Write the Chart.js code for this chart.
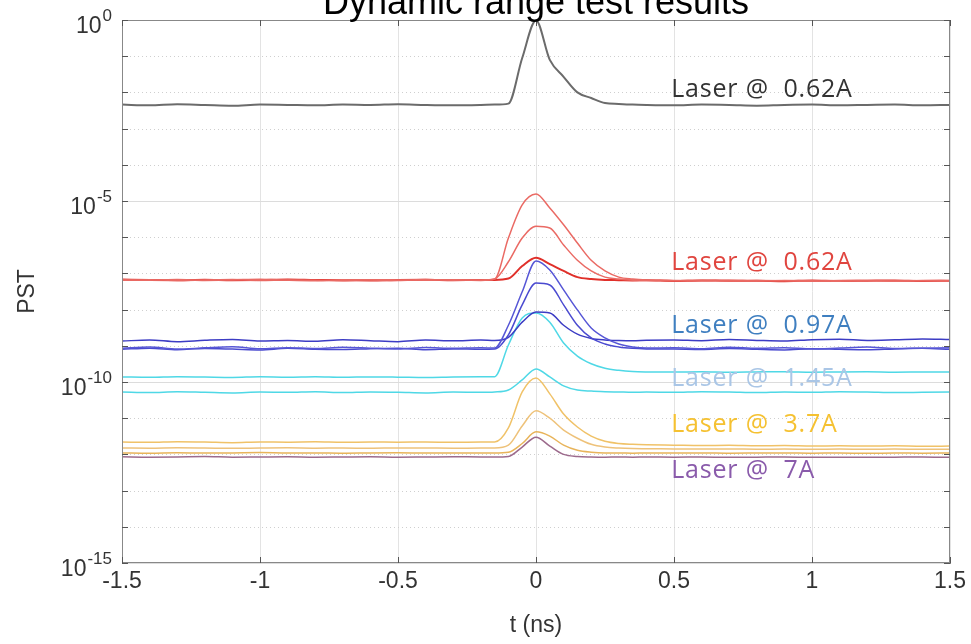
<!DOCTYPE html>
<html>
<head>
<meta charset="utf-8">
<script src="https://cdn.jsdelivr.net/npm/chart.js@4.4.1/dist/chart.umd.min.js"></script>
<style>
  html, body { margin: 0; padding: 0; background: #fff; }
  canvas { display: block; }
</style>
</head>
<body>
<canvas id="myChart" width="971" height="644"></canvas>
<script>
// time axis (ns), shared by every trace
const T = [-1.5, -1.4, -1.3, -1.2, -1.1, -1.0, -0.9, -0.8, -0.7, -0.6, -0.5, -0.4, -0.3, -0.2,
  -0.15, -0.1, -0.05, 0, 0.05, 0.1, 0.15, 0.2, 0.25, 0.3, 0.35, 0.4,
  0.5, 0.6, 0.7, 0.8, 0.9, 1.0, 1.1, 1.2, 1.3, 1.4, 1.5];

// PST traces
const black1 = [4.6e-3, 4.4e-3, 4.7e-3, 4.5e-3, 4.3e-3, 4.6e-3, 4.5e-3, 4.4e-3, 4.6e-3, 4.5e-3, 4.7e-3, 4.5e-3, 4.4e-3, 4.5e-3,
  4.6e-3, 4.9e-3, 8.9e-2, 0.97, 7.9e-2, 2.7e-2, 1.0e-2, 7.0e-3, 5.1e-3, 4.8e-3, 4.6e-3, 4.5e-3,
  4.4e-3, 4.6e-3, 4.5e-3, 4.3e-3, 4.5e-3, 4.6e-3, 4.4e-3, 4.5e-3, 4.6e-3, 4.4e-3, 4.5e-3];

const red1 = [6.7e-8, 6.5e-8, 6.8e-8, 6.4e-8, 6.6e-8, 6.9e-8, 6.5e-8, 6.3e-8, 6.7e-8, 6.6e-8, 6.4e-8, 6.8e-8, 6.5e-8, 6.6e-8,
  7.0e-8, 9.5e-7, 7.8e-6, 1.56e-5, 6.4e-6, 2.2e-6, 6.9e-7, 2.3e-7, 1.17e-7, 7.9e-8, 7.0e-8, 6.6e-8,
  6.4e-8, 6.3e-8, 6.5e-8, 6.2e-8, 6.4e-8, 6.3e-8, 6.1e-8, 6.4e-8, 6.2e-8, 6.3e-8, 6.2e-8];
const red2 = [6.5e-8, 6.7e-8, 6.4e-8, 6.6e-8, 6.8e-8, 6.4e-8, 6.6e-8, 6.5e-8, 6.3e-8, 6.7e-8, 6.6e-8, 6.5e-8, 6.7e-8, 6.4e-8,
  7.0e-8, 2.1e-7, 9.5e-7, 2.0e-6, 1.8e-6, 6.1e-7, 2.3e-7, 1.17e-7, 7.9e-8, 7.0e-8, 6.5e-8, 6.4e-8,
  6.3e-8, 6.5e-8, 6.2e-8, 6.4e-8, 6.3e-8, 6.1e-8, 6.4e-8, 6.3e-8, 6.2e-8, 6.4e-8, 6.3e-8];
const red3 = [6.8e-8, 6.6e-8, 6.5e-8, 6.7e-8, 6.5e-8, 6.6e-8, 6.8e-8, 6.6e-8, 6.5e-8, 6.4e-8, 6.6e-8, 6.7e-8, 6.5e-8, 6.6e-8,
  6.6e-8, 7.2e-8, 1.6e-7, 2.7e-7, 1.8e-7, 1.17e-7, 7.9e-8, 7.0e-8, 6.6e-8, 6.5e-8, 6.4e-8, 6.5e-8,
  6.2e-8, 6.4e-8, 6.3e-8, 6.3e-8, 6.1e-8, 6.4e-8, 6.2e-8, 6.3e-8, 6.4e-8, 6.2e-8, 6.3e-8];

const blue1 = [8.5e-10, 9.2e-10, 8.1e-10, 8.8e-10, 9.4e-10, 8.3e-10, 8.9e-10, 8.4e-10, 9.1e-10, 8.6e-10, 8.2e-10, 9.0e-10, 8.5e-10, 8.8e-10,
  8.7e-10, 3.7e-9, 3.1e-8, 2.2e-7, 1.24e-7, 3.5e-8, 9.8e-9, 3.1e-9, 1.65e-9, 1.12e-9, 9.3e-10, 8.7e-10,
  8.8e-10, 8.3e-10, 9.1e-10, 8.5e-10, 8.9e-10, 8.2e-10, 8.7e-10, 9.2e-10, 8.4e-10, 8.6e-10, 8.8e-10];
const blue2 = [8.0e-10, 8.6e-10, 7.8e-10, 8.4e-10, 8.1e-10, 7.7e-10, 8.5e-10, 8.0e-10, 7.9e-10, 8.3e-10, 8.6e-10, 7.8e-10, 8.2e-10, 8.0e-10,
  8.1e-10, 2.0e-9, 1.35e-8, 5.4e-8, 4.8e-8, 1.35e-8, 3.7e-9, 1.65e-9, 1.12e-9, 9.3e-10, 8.5e-10, 8.2e-10,
  8.1e-10, 7.9e-10, 8.4e-10, 8.0e-10, 7.7e-10, 8.3e-10, 8.0e-10, 7.8e-10, 8.2e-10, 8.5e-10, 8.0e-10];
const blue3 = [1.35e-9, 1.45e-9, 1.3e-9, 1.42e-9, 1.5e-9, 1.36e-9, 1.4e-9, 1.33e-9, 1.47e-9, 1.38e-9, 1.3e-9, 1.44e-9, 1.37e-9, 1.45e-9,
  1.4e-9, 1.7e-9, 4.5e-9, 8.6e-9, 8.1e-9, 3.7e-9, 2.1e-9, 1.6e-9, 1.45e-9, 1.4e-9, 1.38e-9, 1.42e-9,
  1.45e-9, 1.38e-9, 1.5e-9, 1.41e-9, 1.35e-9, 1.48e-9, 1.52e-9, 1.4e-9, 1.46e-9, 1.55e-9, 1.5e-9];

const cyan1 = [1.38e-10, 1.35e-10, 1.4e-10, 1.37e-10, 1.34e-10, 1.39e-10, 1.36e-10, 1.4e-10, 1.35e-10, 1.38e-10, 1.36e-10, 1.33e-10, 1.37e-10, 1.39e-10,
  1.4e-10, 1.05e-9, 5.9e-9, 8.1e-9, 4.5e-9, 1.2e-9, 5.2e-10, 3.2e-10, 2.4e-10, 2.1e-10, 1.95e-10, 1.9e-10,
  1.88e-10, 1.92e-10, 1.86e-10, 1.9e-10, 1.93e-10, 1.87e-10, 1.9e-10, 1.91e-10, 1.86e-10, 1.89e-10, 1.9e-10];
const cyan2 = [5.3e-11, 5.1e-11, 5.4e-11, 5.2e-11, 5.0e-11, 5.3e-11, 5.2e-11, 5.4e-11, 5.1e-11, 5.3e-11, 5.2e-11, 5.0e-11, 5.3e-11, 5.2e-11,
  5.3e-11, 6.0e-11, 1.14e-10, 2.3e-10, 1.38e-10, 7.8e-11, 6.0e-11, 5.6e-11, 5.4e-11, 5.3e-11, 5.2e-11, 5.3e-11,
  5.2e-11, 5.4e-11, 5.3e-11, 5.1e-11, 5.3e-11, 5.2e-11, 5.4e-11, 5.3e-11, 5.1e-11, 5.2e-11, 5.3e-11];

const yellow1 = [2.2e-12, 2.15e-12, 2.25e-12, 2.2e-12, 2.1e-12, 2.2e-12, 2.18e-12, 2.22e-12, 2.15e-12, 2.2e-12, 2.17e-12, 2.2e-12, 2.15e-12, 2.2e-12,
  2.2e-12, 5.4e-12, 5.3e-11, 1.29e-10, 4.7e-11, 1.3e-11, 5.7e-12, 3.2e-12, 2.3e-12, 2.0e-12, 1.9e-12, 1.85e-12,
  1.8e-12, 1.75e-12, 1.78e-12, 1.72e-12, 1.75e-12, 1.7e-12, 1.73e-12, 1.7e-12, 1.72e-12, 1.68e-12, 1.7e-12];
const yellow2 = [1.5e-12, 1.48e-12, 1.52e-12, 1.5e-12, 1.47e-12, 1.5e-12, 1.52e-12, 1.49e-12, 1.5e-12, 1.48e-12, 1.51e-12, 1.5e-12, 1.48e-12, 1.5e-12,
  1.5e-12, 1.8e-12, 6.1e-12, 1.6e-11, 1.0e-11, 4.7e-12, 2.8e-12, 1.9e-12, 1.6e-12, 1.5e-12, 1.45e-12, 1.43e-12,
  1.42e-12, 1.4e-12, 1.41e-12, 1.39e-12, 1.4e-12, 1.38e-12, 1.4e-12, 1.39e-12, 1.4e-12, 1.38e-12, 1.39e-12];
const yellow3 = [1.1e-12, 1.08e-12, 1.11e-12, 1.09e-12, 1.1e-12, 1.12e-12, 1.09e-12, 1.1e-12, 1.08e-12, 1.1e-12, 1.11e-12, 1.09e-12, 1.1e-12, 1.1e-12,
  1.1e-12, 1.15e-12, 2.0e-12, 4.2e-12, 3.2e-12, 1.8e-12, 1.3e-12, 1.15e-12, 1.1e-12, 1.1e-12, 1.08e-12, 1.1e-12,
  1.09e-12, 1.1e-12, 1.08e-12, 1.09e-12, 1.1e-12, 1.08e-12, 1.09e-12, 1.07e-12, 1.09e-12, 1.08e-12, 1.09e-12];

const purple1 = [8.6e-13, 8.4e-13, 8.5e-13, 8.7e-13, 8.4e-13, 8.5e-13, 8.6e-13, 8.4e-13, 8.5e-13, 8.6e-13, 8.4e-13, 8.5e-13, 8.6e-13, 8.5e-13,
  8.5e-13, 8.8e-13, 1.6e-12, 3.0e-12, 1.7e-12, 1.0e-12, 8.8e-13, 8.5e-13, 8.4e-13, 8.5e-13, 8.4e-13, 8.5e-13,
  8.4e-13, 8.5e-13, 8.3e-13, 8.4e-13, 8.5e-13, 8.3e-13, 8.4e-13, 8.3e-13, 8.4e-13, 8.5e-13, 8.3e-13];

// tick labels
const xTicks = [-1.5, -1, -0.5, 0, 0.5, 1, 1.5];
const yMajorExp = [0, -5, -10, -15];

// text labels next to the traces
const noteText = ["Laser @  0.62A", "Laser @  0.62A", "Laser @  0.97A", "Laser @  1.45A", "Laser @  3.7A", "Laser @  7A"];
const noteT = [0.49, 0.49, 0.49, 0.49, 0.49, 0.49];
const noteV = [1.2e-2, 1.9e-7, 3.6e-9, 1.25e-10, 6.7e-12, 3.4e-13];
const noteColor = ["#333333", "#e0453f", "#3f7fc0", "#aac6e6", "#f5c131", "#8a5bab"];

const FONT = "'Liberation Sans', Arial, sans-serif";

const line = (data, color, width) => ({
  data: T.map((t, i) => ({ x: t, y: data[i] })),
  borderColor: color,
  borderWidth: width,
  pointRadius: 0,
  cubicInterpolationMode: 'monotone',
  fill: false
});

const decor = {
  id: 'decor',
  beforeDatasetsDraw(chart) {
    const { ctx, chartArea: a, scales: { y } } = chart;
    ctx.save();
    for (let e = 0; e >= -15; e--) {
      const py = Math.round(y.getPixelForValue(Math.pow(10, e))) + 0.5;
      ctx.beginPath();
      if (e % 5 === 0) {
        ctx.strokeStyle = '#dcdcdc';
        ctx.setLineDash([]);
      } else {
        ctx.strokeStyle = '#cfcfcf';
        ctx.setLineDash([1, 3]);
      }
      ctx.lineWidth = 1;
      ctx.moveTo(a.left, py);
      ctx.lineTo(a.right, py);
      ctx.stroke();
    }
    ctx.restore();
  },
  afterDatasetsDraw(chart) {
    const { ctx, chartArea: a, scales: { x, y } } = chart;
    ctx.save();
    // box + inward ticks
    ctx.strokeStyle = '#888';
    ctx.lineWidth = 1;
    ctx.strokeRect(a.left + 0.5, a.top + 0.5, a.right - a.left - 1, a.bottom - a.top - 1);
    ctx.strokeStyle = '#555';
    ctx.beginPath();
    for (let e = 0; e >= -15; e--) {
      const py = Math.round(y.getPixelForValue(Math.pow(10, e))) + 0.5;
      ctx.moveTo(a.left, py); ctx.lineTo(a.left + 6, py);
      ctx.moveTo(a.right, py); ctx.lineTo(a.right - 6, py);
    }
    xTicks.forEach(v => {
      const px = Math.round(x.getPixelForValue(v)) + 0.5;
      ctx.moveTo(px, a.bottom); ctx.lineTo(px, a.bottom - 6);
      ctx.moveTo(px, a.top); ctx.lineTo(px, a.top + 6);
    });
    ctx.stroke();

    // y labels 10^n
    ctx.fillStyle = '#333';
    ctx.textBaseline = 'alphabetic';
    ctx.textAlign = 'left';
    yMajorExp.forEach(e => {
      const py = y.getPixelForValue(Math.pow(10, e));
      const ex = String(e);
      ctx.font = '23px ' + FONT;
      const bw = ctx.measureText('10').width;
      ctx.font = '17px ' + FONT;
      const ew = ctx.measureText(ex).width;
      const x0 = a.left - 10 - ew - bw - 1;
      ctx.font = '23px ' + FONT;
      ctx.fillText('10', x0, py + 13);
      ctx.font = '17px ' + FONT;
      ctx.fillText(ex, x0 + bw + 1, py + 1);
    });

    // trace notes
    ctx.font = "25px 'Open Sans', sans-serif";
    ctx.letterSpacing = '0.8px';
    ctx.textBaseline = 'middle';
    noteText.forEach((s, i) => {
      ctx.fillStyle = noteColor[i];
      ctx.fillText(s, x.getPixelForValue(noteT[i]), y.getPixelForValue(noteV[i]));
    });
    ctx.letterSpacing = '0px';

    // title (partly above the canvas, as in the original)
    ctx.fillStyle = '#000';
    ctx.textAlign = 'center';
    ctx.textBaseline = 'alphabetic';
    ctx.font = '36px ' + FONT;
    ctx.fillText('Dynamic range test results', (a.left + a.right) / 2, 14);
    ctx.restore();
  }
};

const chart = () => {
  const ctx = document.getElementById('myChart').getContext('2d');
  new Chart(ctx, {
    type: 'line',
    data: {
      datasets: [
        line(black1, '#6b6b6b', 2),
        line(red1, '#ea6a64', 1.5),
        line(red2, '#ea6a64', 1.5),
        line(red3, '#e0302a', 2),
        line(blue1, '#5656d6', 1.5),
        line(blue2, '#4a4ad0', 1.5),
        line(blue3, '#3c3cc4', 1.5),
        line(cyan1, '#4fd8e6', 1.5),
        line(cyan2, '#4fd8e6', 1.5),
        line(yellow1, '#f0c268', 1.5),
        line(yellow2, '#eec27a', 1.5),
        line(yellow3, '#e8b45a', 1.5),
        line(purple1, '#9c6a8c', 1.5)
      ]
    },
    options: {
      responsive: false,
      animation: false,
      layout: { padding: { top: 20, right: 21, left: 0, bottom: 0 } },
      plugins: { legend: { display: false }, tooltip: { enabled: false } },
      scales: {
        x: {
          type: 'linear', min: -1.5, max: 1.5,
          afterBuildTicks: s => { s.ticks = xTicks.map(v => ({ value: v })); },
          afterFit: s => { s.height = 81; },
          ticks: {
            padding: 5, color: '#333', font: { family: FONT, size: 23 },
            maxRotation: 0, autoSkip: false,
            callback: v => String(v)
          },
          grid: { color: '#e3e3e3', drawTicks: false },
          border: { color: '#888' },
          title: { display: true, text: 't (ns)', color: '#333', font: { family: FONT, size: 23 }, padding: { top: 0, bottom: 5 } }
        },
        y: {
          type: 'logarithmic', min: 1e-15, max: 1,
          afterFit: s => { s.width = 122; },
          ticks: { display: false },
          grid: { display: false },
          border: { color: '#888' },
          title: { display: true, text: 'PST', color: '#333', font: { family: FONT, size: 23 }, padding: { top: 14, bottom: 0 } }
        }
      }
    },
    plugins: [decor]
  });
};
window.onload = chart();
</script>
</body>
</html>
